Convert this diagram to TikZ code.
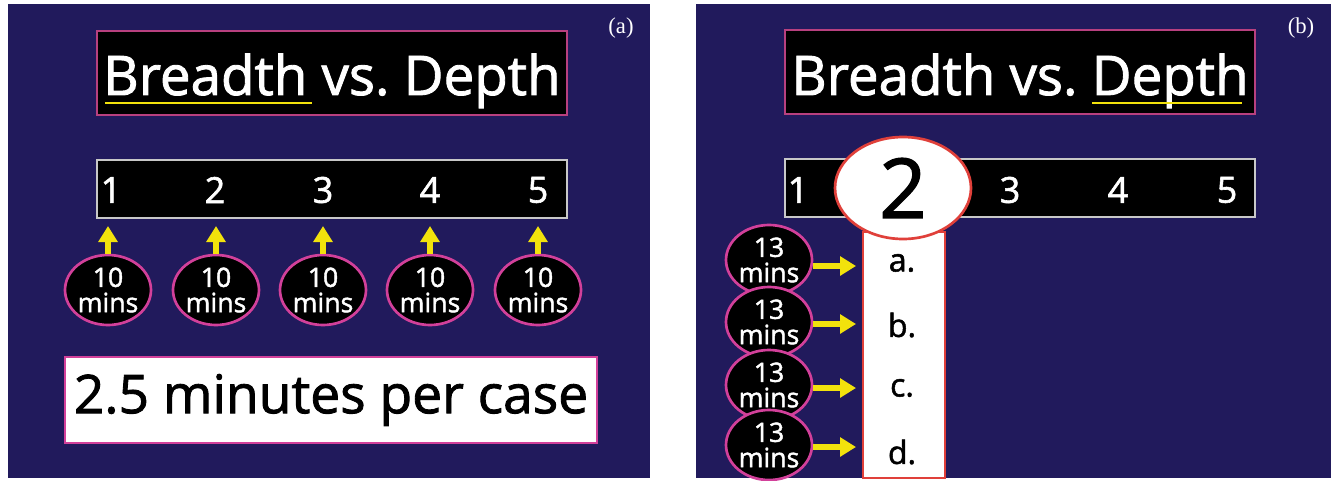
\documentclass[tikz,border=0pt]{standalone}
\usepackage{fontspec}
\setmainfont{Open Sans}
\newfontfamily\heavy{Open Sans}[FakeBold=1.6]
\newfontfamily\labelfont{Liberation Serif}
\usetikzlibrary{arrows.meta,shapes.geometric}
\definecolor{navy}{HTML}{211A5C}
\definecolor{pinkb}{HTML}{D2409A}
\definecolor{titleb}{HTML}{B8407F}
\definecolor{yel}{HTML}{F2E20C}
\definecolor{redb}{HTML}{E0403A}
\definecolor{barb}{HTML}{C8C8C8}
\frenchspacing
\begin{document}
\begin{tikzpicture}[x=0.75pt,y=-0.75pt,
 titlebox/.style={draw=titleb,line width=1.5pt,fill=black,minimum width=352.5pt,minimum height=63pt,inner sep=0pt},
 titletext/.style={text=white,anchor=base,inner sep=0pt,font=\heavy\fontsize{41}{44}\selectfont},
 barbox/.style={draw=barb,line width=1.5pt,fill=black,minimum width=353pt,minimum height=43.5pt,inner sep=0pt},
 num/.style={text=white,font=\heavy\fontsize{27}{30}\selectfont,inner sep=0pt},
 mins/.style={ellipse,draw=pinkb,line width=2pt,fill=black,minimum width=64.5pt,minimum height=52.5pt,inner sep=0pt,text=white,align=center,font=\heavy\fontsize{20}{19}\selectfont},
 yarrow/.style={draw=yel,line width=3.8pt,-{Triangle[width=14pt,length=12pt]}},
 uline/.style={draw=yel,line width=2.2pt},
 plabel/.style={text=white,font=\labelfont\fontsize{17}{17}\selectfont,inner sep=0pt},
 letter/.style={text=black,font=\heavy\fontsize{24}{24}\selectfont,inner sep=0pt},
]
\useasboundingbox (0,0) rectangle (1337,481);
\fill[white] (0,0) rectangle (1337,481);
\fill[navy] (8,4) rectangle (650,478);
\fill[navy] (696,4) rectangle (1331,478);

% ---------- panel (a)
\node[plabel] (la) at (621,28) {(a)};
\node[titlebox] (ta) at (332,73) {};
\node[titletext] (tta) at (332,95) {Breadth vs. Depth};
\draw[uline] (105,103) -- (312,103);
\node[barbox] (ba) at (332,189) {};
\foreach \i/\x in {1/111,2/215,3/323,4/430,5/538}{
  \node[num] (na\i) at (\x,190) {\i};
}
\foreach \i/\x in {1/108,2/216,3/323,4/430,5/538}{
  \node[mins] (ea\i) at (\x,290) {10\\mins};
  \coordinate (ta\i) at (\x,226);
  \draw[yarrow] (ea\i) -- (ta\i);
}
\node[draw=pinkb,line width=2.2pt,fill=white,minimum width=399pt,minimum height=64.5pt,inner sep=0pt,font=\heavy\fontsize{40}{42}\selectfont] (ca) at (331,400) {2.5 minutes per case};

% ---------- panel (b)
\node[plabel] (lb) at (1301,28) {(b)};
\node[titlebox] (tb) at (1020,72) {};
\node[titletext] (ttb) at (1020,95) {Breadth vs. Depth};
\draw[uline] (1092,103) -- (1242,103);
\node[barbox] (bb) at (1020,188) {};
\node[num] (nb1) at (798,190) {1};
\node[num] (nb3) at (1010,190) {3};
\node[num] (nb4) at (1118,190) {4};
\node[num] (nb5) at (1227,190) {5};
\node[draw=redb,line width=1.5pt,fill=white,minimum width=61.5pt,minimum height=184pt,inner sep=0pt] (col) at (904,355) {};
\node[letter] (la1) at (902,263) {a.};
\node[letter] (la2) at (902,325) {b.};
\node[letter] (la3) at (902,388) {c.};
\node[letter] (la4) at (902,452) {d.};
\node[ellipse,draw=redb,line width=2pt,fill=white,minimum width=102pt,minimum height=76.5pt,inner sep=0pt,font=\heavy\fontsize{62}{62}\selectfont] (two) at (903,188) {2};
\foreach \i/\y/\ay in {1/260/266,2/322/324,3/385/388,4/445/447}{
  \node[mins] (m\i) at (769,\y) {13\\mins};
  \coordinate (u\i) at (856,\ay);
  \draw[yarrow] (m\i.east |- u\i) -- (u\i);
}
\end{tikzpicture}
\end{document}
